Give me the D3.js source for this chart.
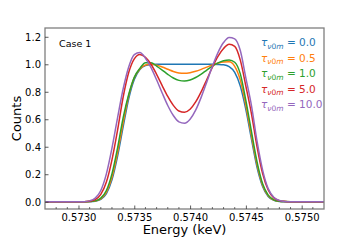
<!DOCTYPE html>
<html>
<head>
<meta charset="utf-8">
<script src="https://cdn.jsdelivr.net/npm/d3@7"></script>
<style>
  body { margin: 0; background: #fff; }
  svg { display: block; }
  svg text { font-family: "DejaVu Sans", sans-serif; }
</style>
</head>
<body>
<svg id="chart" width="360" height="240"></svg>
<script>
// energy grid (keV)
const energy = [0.57270, 0.57300, 0.57305, 0.57310, 0.57315, 0.57320, 0.57325, 0.57330, 0.57335, 0.57340,
  0.57345, 0.57350, 0.57355, 0.57360, 0.57365, 0.57370, 0.57375, 0.57380, 0.57385, 0.57390,
  0.57395, 0.57400, 0.57405, 0.57410, 0.57415, 0.57420, 0.57425, 0.57430, 0.57435, 0.57440,
  0.57445, 0.57450, 0.57455, 0.57460, 0.57465, 0.57470, 0.57475, 0.57480, 0.57485, 0.57490, 0.57520];

const tauLabels = ["0.0", "0.5", "1.0", "5.0", "10.0"];
const tauColors = ["#1f77b4", "#ff7f0e", "#2ca02c", "#d62728", "#9467bd"];

const counts0 = [0, 0, 0, 0.0006, 0.004, 0.017, 0.059, 0.159, 0.33, 0.544,
  0.749, 0.889, 0.962, 0.99, 0.998, 1.0, 1.0, 1.0, 1.0, 1.0,
  1.0, 1.0, 1.0, 1.0, 1.0, 1.0, 0.999, 0.996, 0.983, 0.941,
  0.841, 0.670, 0.456, 0.251, 0.111, 0.038, 0.010, 0.002, 0, 0, 0];
const counts05 = [0, 0, 0, 0.001, 0.005, 0.021, 0.069, 0.178, 0.356, 0.574,
  0.771, 0.903, 0.965, 0.995, 1.0, 0.994, 0.980, 0.964, 0.948, 0.937,
  0.934, 0.939, 0.949, 0.963, 0.979, 0.995, 1.008, 1.016, 1.018, 0.985,
  0.885, 0.70, 0.48, 0.27, 0.12, 0.043, 0.012, 0.003, 0.001, 0, 0];
const counts1 = [0, 0, 0, 0.001, 0.006, 0.026, 0.082, 0.203, 0.39, 0.61,
  0.78, 0.905, 0.97, 1.012, 1.012, 0.987, 0.958, 0.927, 0.900, 0.883,
  0.878, 0.886, 0.904, 0.929, 0.958, 0.986, 1.010, 1.026, 1.032, 1.015,
  0.93, 0.735, 0.51, 0.29, 0.13, 0.048, 0.014, 0.003, 0.001, 0, 0];
const counts5 = [0, 0, 0, 0.003, 0.015, 0.053, 0.143, 0.305, 0.52, 0.76,
  0.94, 1.04, 1.072, 1.051, 1.0, 0.927, 0.845, 0.766, 0.701, 0.660,
  0.651, 0.673, 0.726, 0.801, 0.889, 0.979, 1.058, 1.115, 1.145, 1.13,
  1.03, 0.84, 0.64, 0.40, 0.205, 0.085, 0.028, 0.008, 0.002, 0, 0];
const counts10 = [0, 0, 0.0002, 0.006, 0.026, 0.082, 0.203, 0.39, 0.61, 0.82,
  0.98, 1.07, 1.085, 1.044, 0.976, 0.887, 0.791, 0.700, 0.627, 0.581,
  0.571, 0.600, 0.666, 0.761, 0.872, 0.985, 1.085, 1.158, 1.195, 1.185,
  1.10, 0.90, 0.70, 0.44, 0.23, 0.095, 0.033, 0.009, 0.002, 0, 0];

const xMajorTicks = [0.5730, 0.5735, 0.5740, 0.5745, 0.5750];
const xMinorTicks = [0.5728, 0.5729, 0.5731, 0.5732, 0.5733, 0.5734, 0.5736, 0.5737, 0.5738, 0.5739,
  0.5741, 0.5742, 0.5743, 0.5744, 0.5746, 0.5747, 0.5748, 0.5749, 0.5751];
const yTicks = [0.0, 0.2, 0.4, 0.6, 0.8, 1.0, 1.2];

const allSeries = [counts0, counts05, counts1, counts5, counts10];

const svg = d3.select("#chart");
const margin = { top: 28, right: 36, bottom: 31, left: 45 };
const width = +svg.attr("width");
const height = +svg.attr("height");
const innerWidth = width - margin.left - margin.right;
const innerHeight = height - margin.top - margin.bottom;

const g = svg.append("g")
  .attr("transform", `translate(${margin.left},${margin.top})`);

const x = d3.scaleLinear()
  .domain([0.5727, 0.5752])
  .range([0, innerWidth]);

const y = d3.scaleLinear()
  .domain([-0.053, 1.264])
  .range([innerHeight, 0]);

// --- Lines ---
const line = d3.line()
  .x((d, i) => x(energy[i]))
  .y(d => y(d))
  .curve(d3.curveMonotoneX);

g.append("clipPath").attr("id", "plot-clip")
  .append("rect")
  .attr("width", innerWidth)
  .attr("height", innerHeight);

g.append("g")
  .attr("clip-path", "url(#plot-clip)")
  .selectAll("path")
  .data(allSeries)
  .enter()
  .append("path")
  .attr("fill", "none")
  .attr("stroke", (d, i) => tauColors[i])
  .attr("stroke-width", 1.5)
  .attr("d", line);

// frame
g.append("rect")
  .attr("width", innerWidth)
  .attr("height", innerHeight)
  .attr("fill", "none")
  .attr("stroke", "#7f7f7f")
  .attr("stroke-width", 1.3);

// minor ticks, drawn as plain lines (no labels)
g.append("g")
  .selectAll("line")
  .data(xMinorTicks)
  .enter()
  .append("line")
  .attr("x1", d => x(d))
  .attr("x2", d => x(d))
  .attr("y1", innerHeight)
  .attr("y2", innerHeight - 2)
  .attr("stroke", "#333")
  .attr("stroke-width", 0.7);

const xAxisG = g.append("g")
  .attr("transform", `translate(0,${innerHeight})`)
  .call(d3.axisBottom(x)
    .tickValues(xMajorTicks)
    .tickSize(-3.5)
    .tickPadding(5)
    .tickFormat(d3.format(".4f")));

const yAxisG = g.append("g")
  .call(d3.axisLeft(y)
    .tickValues(yTicks)
    .tickSize(-3.5)
    .tickPadding(4)
    .tickFormat(d3.format(".1f")));

[xAxisG, yAxisG].forEach(a => {
  a.select(".domain").remove();
  a.attr("font-family", null).attr("font-size", null);
  a.selectAll(".tick line").attr("stroke", "#333").attr("stroke-width", 0.8);
  a.selectAll("text").style("font-size", "10px").attr("fill", "#000");
});
// absolute baselines instead of em offsets
xAxisG.selectAll("text").attr("dy", null).attr("y", 12.3);
yAxisG.selectAll("text").attr("dy", null).attr("y", 3.5);

// --- Texts ---
g.append("text")
  .attr("x", 14)
  .attr("y", 18.5)
  .style("font-size", "9.5px")
  .text("Case 1");

const legend = g.append("g")
  .attr("transform", `translate(${216},0)`);

tauLabels.forEach((lab, i) => {
  const base = 18 + i * 15.6;
  const t = legend.append("text")
    .attr("x", 0)
    .attr("y", base)
    .attr("fill", tauColors[i])
    .style("font-size", "10.5px");
  t.append("tspan").style("font-style", "italic").text("τ");
  t.append("tspan")
    .attr("y", base + 2.5)
    .style("font-size", "7.5px")
    .style("font-style", "italic")
    .text("ν");
  t.append("tspan").attr("y", base + 2.5).style("font-size", "7.5px").text("0");
  t.append("tspan").attr("y", base + 2.5).style("font-size", "7.5px").style("font-style", "italic").text("m");
  t.append("tspan").attr("y", base).text(" = " + lab);
});

svg.append("text")
  .attr("x", margin.left + innerWidth / 2)
  .attr("y", 234)
  .attr("text-anchor", "middle")
  .style("font-size", "13px")
  .text("Energy (keV)");

svg.append("text")
  .attr("transform", `translate(21,${margin.top + innerHeight / 2}) rotate(-90)`)
  .attr("text-anchor", "middle")
  .style("font-size", "13px")
  .text("Counts");
</script>
</body>
</html>
